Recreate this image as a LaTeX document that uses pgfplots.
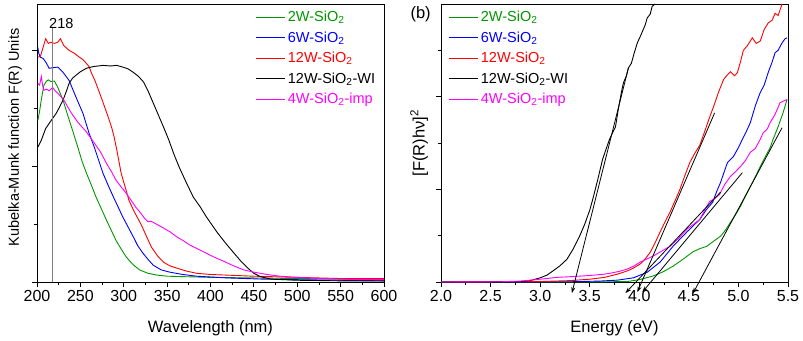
\documentclass[border=0pt]{standalone}
\usepackage{fontspec}
\setmainfont{Liberation Sans}
\usepackage{pgfplots}
\pgfplotsset{compat=1.18}
\usetikzlibrary{arrows.meta}

\definecolor{cgreen}{RGB}{0,150,0}
\definecolor{cblue}{RGB}{0,0,255}
\definecolor{cred}{RGB}{255,0,0}
\definecolor{cmag}{RGB}{255,0,255}

\newcommand\tickfont{\fontsize{16}{19}\selectfont}
\newcommand\labfont{\fontsize{16.5}{19}\selectfont}
\newcommand\legfont{\fontsize{14.5}{17}\selectfont}

\pgfplotsset{
  crv/.style={color=#1, line width=0.9pt},
  panel/.style={
    scale only axis, width=347pt, height=278pt,
    axis line style={line width=0.8pt},
    tick style={line width=0.8pt, black},
    tick align=outside, xtick pos=bottom, ytick pos=left,
    major tick length=5pt, minor tick length=3pt,
    minor x tick num=1,
    yticklabels={},
    ticklabel style={font=\tickfont},
    /pgf/number format/assume math mode=true,
    every axis x label/.style={at={(axis description cs:0.5,-0.183)}, anchor=base, font=\labfont},
    legend style={draw=none, fill=none, font=\legfont, inner sep=0pt, row sep=4.5pt,
      cells={anchor=west}},
    legend image post style={xscale=1.75},
  }
}

\begin{document}
\begin{tikzpicture}
\path[use as bounding box] (-37pt,-58pt) rectangle (766pt,282pt);

% ---------- (a) ----------
\begin{axis}[panel,
  at={(0pt,0pt)},
  xmin=200, xmax=600, ymin=0, ymax=4.8,
  xtick={200,250,...,600},
  ytick={0,2,4}, minor ytick={1,3},
  xlabel={Wavelength (nm)},
  ylabel={Kubelka-Munk function F(R) Units},
  every axis y label/.style={at={(axis description cs:-0.063,0.52)}, rotate=90, anchor=center, font=\legfont},
  legend style={at={(axis description cs:0.628,0.982)}, anchor=north west},
]
\addplot[crv=cgreen] coordinates {
 (201,2.79)(203,2.95)(205,3.15)(208,3.40)(211,3.47)(213,3.49)(216,3.46)(220,3.47)
 (224,3.36)(230,3.14)(236,2.85)(242,2.57)(247,2.33)(252,2.08)(257,1.88)(263,1.66)
 (268,1.47)(274,1.27)(280,1.07)(286,0.88)(291,0.72)(297,0.57)(303,0.43)(310,0.31)
 (318,0.21)(328,0.15)(338,0.12)(350,0.10)(375,0.09)(400,0.08)(450,0.07)(500,0.06)
 (550,0.05)(600,0.05)};
\addlegendentry[text=cgreen]{2W-SiO\textsubscript{2}}
\addplot[crv=cblue] coordinates {
 (201,4.05)(202,3.95)(204,3.88)(207,3.86)(210,3.80)(214,3.69)(218,3.70)(224,3.71)
 (230,3.62)(237,3.48)(245,3.19)(253,2.91)(260,2.57)(266,2.33)(276,1.88)(282,1.67)
 (288,1.47)(294,1.28)(299,1.12)(305,0.95)(311,0.78)(316,0.63)(322,0.50)(328,0.39)
 (334,0.29)(343,0.21)(353,0.17)(368,0.13)(384,0.10)(420,0.07)(460,0.05)(500,0.04)
 (550,0.03)(600,0.02)};
\addlegendentry[text=cblue]{6W-SiO\textsubscript{2}}
\addplot[crv=cred] coordinates {
 (201,3.88)(204,3.90)(207,4.05)(210,4.20)(213,4.12)(216,4.14)(220,4.12)(224,4.14)
 (227,4.20)(231,4.08)(237,4.00)(243,3.95)(249,3.88)(253,3.84)(256,3.79)(260,3.72)
 (263,3.60)(267,3.47)(271,3.31)(275,3.15)(278,3.02)(282,2.85)(286,2.67)(289,2.50)
 (292,2.28)(297,1.88)(302,1.62)(306,1.41)(310,1.28)(314,1.16)(318,1.05)(322,0.93)
 (327,0.76)(332,0.60)(339,0.45)(346,0.34)(353,0.28)(361,0.24)(372,0.19)(384,0.15)
 (400,0.13)(450,0.10)(500,0.08)(550,0.06)(600,0.06)};
\addlegendentry[text=cred]{12W-SiO\textsubscript{2}}
\addplot[crv=black] coordinates {
 (201,2.33)(205,2.45)(210,2.65)(215,2.76)(222,2.91)(226,3.02)(230,3.14)(234,3.30)
 (237,3.43)(241,3.52)(245,3.57)(250,3.63)(257,3.69)(265,3.72)(276,3.74)(285,3.73)
 (292,3.74)(299,3.71)(305,3.68)(311,3.62)(317,3.55)(323,3.45)(328,3.30)(334,3.09)
 (340,2.88)(346,2.67)(352,2.45)(358,2.20)(364,1.98)(372,1.72)(380,1.47)(388,1.30)
 (395,1.13)(408,0.85)(418,0.66)(427,0.50)(435,0.36)(443,0.24)(450,0.15)(458,0.09)
 (470,0.05)(500,0.03)(550,0.02)(600,0.02)};
\addlegendentry[text=black]{12W-SiO\textsubscript{2}-WI}
\addplot[crv=cmag] coordinates {
 (201,3.43)(203,3.40)(205,3.55)(207,3.35)(208,3.31)(211,3.33)(214,3.30)(218,3.36)
 (221,3.30)(224,3.26)(231,3.14)(239,2.93)(247,2.76)(257,2.59)(266,2.40)(273,2.25)
 (280,2.05)(286,1.90)(291,1.76)(297,1.64)(303,1.53)(309,1.40)(314,1.29)(319,1.20)
 (324,1.10)(328,1.04)(331,1.05)(334,1.03)(340,0.98)(346,0.93)(354,0.86)(361,0.78)
 (369,0.71)(376,0.64)(384,0.58)(392,0.52)(400,0.46)(407,0.41)(415,0.36)(425,0.29)
 (438,0.21)(450,0.17)(465,0.13)(480,0.10)(500,0.08)(525,0.06)(550,0.05)(575,0.04)
 (600,0.04)};
\addlegendentry[text=cmag]{4W-SiO\textsubscript{2}-imp}
\addplot[gray, line width=0.6pt, forget plot] coordinates {(218,0) (218,4.4)};
\node[font=\legfont] at (axis cs:228,4.47) {218};
\node[font=\labfont, anchor=west] at (axis description cs:-0.098,0.964) {(a)};
\end{axis}

% ---------- (b) ----------
\begin{axis}[panel,
  at={(404pt,0pt)}, clip=false,
  xmin=2, xmax=5.5, ymin=0, ymax=6,
  xtick={2,2.5,...,5.5},
  xticklabel style={/pgf/number format/.cd, fixed, fixed zerofill, precision=1},
  ytick={0,2,4}, minor ytick={1,3,5},
  xlabel={Energy (eV)},
  ylabel={[F(R)hν]\textsuperscript{2}},
  every axis y label/.style={at={(axis description cs:-0.063,0.5)}, rotate=90, anchor=center, font=\labfont},
  legend style={at={(axis description cs:0.02,0.982)}, anchor=north west},
]
\addplot[crv=cgreen] coordinates {
 (2.0,0)(3.5,0.0)(3.88,0.01)(4.0,0.05)(4.14,0.13)(4.24,0.22)(4.34,0.34)(4.44,0.49)
 (4.54,0.65)(4.61,0.72)(4.68,0.77)(4.75,0.88)(4.82,0.99)(4.87,1.12)(4.92,1.29)
 (4.97,1.45)(5.02,1.63)(5.07,1.85)(5.12,2.06)(5.17,2.27)(5.22,2.49)(5.27,2.70)
 (5.32,2.90)(5.35,3.08)(5.40,3.35)(5.45,3.65)(5.49,3.94)};
\addlegendentry[text=cgreen]{2W-SiO\textsubscript{2}}
\addplot[crv=cblue] coordinates {
 (2.0,0)(3.3,0.005)(3.6,0.02)(3.78,0.04)(3.94,0.09)(4.08,0.21)(4.21,0.43)(4.34,0.77)
 (4.48,1.08)(4.61,1.35)(4.68,1.57)(4.74,1.72)(4.78,1.95)(4.82,2.15)(4.86,2.40)
 (4.89,2.58)(4.95,2.71)(5.00,2.90)(5.04,3.08)(5.08,3.25)(5.12,3.44)(5.17,3.80)
 (5.22,4.09)(5.26,4.25)(5.30,4.52)(5.34,4.75)(5.37,4.95)(5.40,5.00)(5.44,5.16)
 (5.47,5.25)(5.49,5.27)};
\addlegendentry[text=cblue]{6W-SiO\textsubscript{2}}
\addplot[crv=cred] coordinates {
 (2.0,0)(3.0,0.01)(3.3,0.03)(3.5,0.06)(3.65,0.10)(3.78,0.17)(3.88,0.24)(3.94,0.30)
 (4.01,0.39)(4.06,0.50)(4.11,0.64)(4.16,0.85)(4.21,1.08)(4.26,1.30)(4.31,1.51)
 (4.36,1.75)(4.41,2.00)(4.46,2.30)(4.51,2.58)(4.56,2.78)(4.61,2.95)(4.66,3.25)
 (4.70,3.50)(4.75,3.79)(4.80,4.10)(4.85,4.37)(4.88,4.45)(4.92,4.54)(4.96,4.45)
 (4.99,4.52)(5.02,4.75)(5.05,5.00)(5.09,5.10)(5.14,5.27)(5.18,5.15)(5.22,5.20)
 (5.26,5.45)(5.30,5.59)(5.34,5.65)(5.37,5.80)(5.40,5.75)(5.44,6.00)};
\addlegendentry[text=cred]{12W-SiO\textsubscript{2}}
\addplot[crv=black] coordinates {
 (2.0,0)(2.5,0)(2.7,0.005)(2.8,0.01)(2.9,0.03)(3.0,0.09)(3.07,0.15)(3.13,0.24)
 (3.2,0.35)(3.27,0.49)(3.33,0.70)(3.4,1.00)(3.45,1.25)(3.5,1.55)(3.53,1.78)
 (3.58,2.20)(3.63,2.65)(3.67,2.90)(3.70,3.08)(3.73,3.22)(3.76,3.35)(3.79,3.75)
 (3.82,4.10)(3.84,4.30)(3.87,4.45)(3.89,4.62)(3.92,4.72)(3.95,4.95)(3.98,5.16)
 (4.01,5.30)(4.04,5.45)(4.06,5.55)(4.08,5.70)(4.11,5.78)(4.13,5.95)(4.16,6.00)};
\addlegendentry[text=black]{12W-SiO\textsubscript{2}-WI}
\addplot[crv=cmag] coordinates {
 (2.0,0)(2.6,0.005)(2.8,0.02)(3.0,0.06)(3.17,0.10)(3.35,0.12)(3.5,0.14)(3.65,0.17)
 (3.71,0.19)(3.8,0.23)(3.88,0.28)(3.95,0.35)(4.01,0.43)(4.08,0.50)(4.14,0.56)
 (4.22,0.66)(4.31,0.77)(4.40,0.95)(4.48,1.14)(4.55,1.25)(4.61,1.35)(4.66,1.55)
 (4.71,1.74)(4.76,1.80)(4.81,1.89)(4.86,2.10)(4.92,2.28)(4.97,2.38)(5.02,2.49)
 (5.07,2.62)(5.12,2.80)(5.17,2.88)(5.22,3.08)(5.25,3.22)(5.29,3.30)(5.32,3.44)
 (5.37,3.62)(5.42,3.87)(5.49,3.94)};
\addlegendentry[text=cmag]{4W-SiO\textsubscript{2}-imp}
% tangent lines for band gap
\addplot[black, line width=0.8pt, -{Stealth[length=6pt,width=4pt]}, forget plot] coordinates {(3.89,4.62) (3.32,-0.24)};
\addplot[black, line width=0.8pt, -{Stealth[length=6pt,width=4pt]}, forget plot] coordinates {(4.76,3.65) (3.98,-0.22)};
\addplot[black, line width=0.8pt, -{Stealth[length=6pt,width=4pt]}, forget plot] coordinates {(4.82,1.94) (3.86,-0.24)};
\addplot[black, line width=0.8pt, -{Stealth[length=6pt,width=4pt]}, forget plot] coordinates {(5.04,2.36) (4.03,-0.22)};
\addplot[black, line width=0.8pt, -{Stealth[length=6pt,width=4pt]}, forget plot] coordinates {(5.44,3.33) (4.54,-0.25)};
\node[font=\labfont, anchor=west] at (axis description cs:-0.098,0.962) {(b)};
\end{axis}
\end{tikzpicture}
\end{document}
